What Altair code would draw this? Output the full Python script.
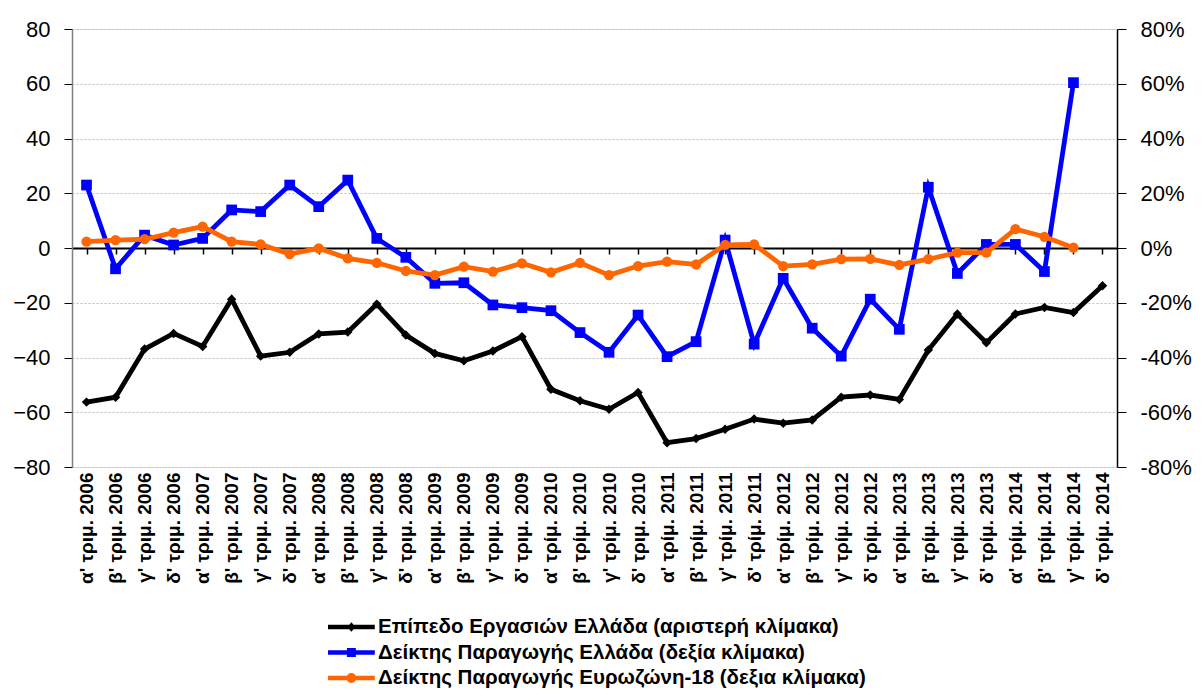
import altair as alt
import pandas as pd

categories = [
    "α' τριμ. 2006", "β' τριμ. 2006", "γ' τριμ. 2006", "δ' τριμ. 2006",
    "α' τριμ. 2007", "β' τριμ. 2007", "γ' τριμ. 2007", "δ' τριμ. 2007",
    "α' τριμ. 2008", "β' τριμ. 2008", "γ' τριμ. 2008", "δ' τριμ. 2008",
    "α' τριμ. 2009", "β' τριμ. 2009", "γ' τριμ. 2009", "δ' τριμ. 2009",
    "α' τρίμ. 2010", "β' τρίμ. 2010", "γ' τρίμ. 2010", "δ' τριμ. 2010",
    "α' τρίμ. 2011", "β' τρίμ. 2011", "γ' τρίμ. 2011", "δ' τρίμ. 2011",
    "α' τρίμ. 2012", "β' τρίμ. 2012", "γ' τρίμ. 2012", "δ' τρίμ. 2012",
    "α' τρίμ. 2013", "β' τρίμ. 2013", "γ' τρίμ. 2013", "δ' τρίμ. 2013",
    "α' τρίμ. 2014", "β' τρίμ. 2014", "γ' τρίμ. 2014", "δ' τρίμ. 2014",
]

employment = [-56.3, -54.5, -36.9, -31.2, -36.0, -18.7, -39.5, -38.1,
              -31.4, -30.7, -20.5, -31.8, -38.5, -41.2, -37.6, -32.4,
              -51.6, -55.8, -58.9, -52.8, -71.1, -69.6, -66.2, -62.5,
              -64.0, -62.8, -54.5, -53.7, -55.3, -37.3, -24.1, -34.6,
              -24.1, -21.7, -23.6, -13.8]

greek_prod = [23.0, -7.6, 4.7, 1.1, 3.5, 13.9, 13.3, 23.0,
              15.1, 24.8, 3.5, -3.4, -12.9, -12.7, -20.8, -21.8,
              -22.9, -30.9, -38.1, -24.5, -39.7, -34.2, 2.9, -35.1,
              -11.1, -29.3, -39.5, -18.7, -29.7, 22.2, -9.3, 1.3,
              1.3, -8.6, 60.4, None]

euro_prod = [2.3, 2.9, 3.2, 5.6, 7.8, 2.3, 1.3, -2.2,
             -0.1, -3.8, -5.4, -8.4, -9.9, -6.8, -8.6, -5.6,
             -8.9, -5.4, -9.9, -6.6, -5.0, -6.0, 1.1, 1.3,
             -6.6, -6.0, -4.1, -4.0, -6.2, -4.1, -1.7, -1.7,
             6.9, 4.1, 0.1, None]

series_names = [
    "Επίπεδο Εργασιών Ελλάδα (αριστερή κλίμακα)",
    "Δείκτης Παραγωγής Ελλάδα (δεξία κλίμακα)",
    "Δείκτης Παραγωγής Ευρωζώνη-18 (δεξια κλίμακα)",
]
series_colors = ["#000000", "#0000FF", "#FF6600"]

left_ticks = [-80, -60, -40, -20, 0, 20, 40, 60, 80]

FONT = "Liberation Sans"
W, H = 1045, 438
LW = 4.8

df = pd.DataFrame({"cat": categories, "emp": employment,
                   "gr": greek_prod, "eu": euro_prod})

xscale = alt.Scale(domain=categories, paddingInner=0, paddingOuter=0)
yscale = alt.Scale(domain=[-80, 80], nice=False, zero=False)

x_labels = alt.X("cat:N", sort=categories, scale=xscale, title=None,
                 axis=alt.Axis(orient="bottom", labelAngle=-90, labelFont=FONT,
                               labelFontSize=19, labelFontWeight="bold",
                               labelColor="#000000", labelPadding=5,
                               ticks=False, domain=False, grid=False,
                               labelOverlap=False))

x_ticks = alt.X("cat:N", sort=categories, scale=xscale, title=None,
                axis=alt.Axis(orient="bottom", offset=-H / 2, labels=False,
                              ticks=True, tickSize=6, tickWidth=1.5,
                              tickColor="#000000", bandPosition=0,
                              domain=True, domainColor="#000000",
                              domainWidth=2, grid=False))

y_left = alt.Y("emp:Q", scale=yscale, title=None,
               axis=alt.Axis(orient="left", values=left_ticks, labelFont=FONT,
                             labelFontSize=22, labelColor="#000000",
                             labelPadding=14, tickSize=8, tickColor="#000000",
                             domainColor="#808080", domainWidth=1.5,
                             grid=True, gridColor="#bfbfbf", gridDash=[2, 2],
                             gridWidth=1))

right_axis = alt.Axis(orient="right", values=left_ticks,
                      labelExpr="datum.value + '%'", labelFont=FONT,
                      labelFontSize=22, labelColor="#000000",
                      labelPadding=14, tickSize=9,
                      tickColor="#000000", domainColor="#000000",
                      domainWidth=1.5, grid=False)

base = alt.Chart(df)

emp_line = base.mark_line(color="#000000", strokeWidth=LW).encode(x=x_labels, y=y_left)
emp_pts = base.mark_point(shape="diamond", filled=True, size=90, opacity=1,
                          color="#000000").encode(x=x_labels, y=y_left)

gr_y = alt.Y("gr:Q", scale=yscale, title=None, axis=right_axis)
gr_line = base.transform_filter("isValid(datum.gr)").mark_line(
    color="#0000FF", strokeWidth=LW).encode(x=x_ticks, y=gr_y)
gr_pts = base.transform_filter("isValid(datum.gr)").mark_point(
    shape="square", filled=True, size=115, opacity=1,
    color="#0000FF").encode(x=x_ticks, y=gr_y)

eu_y = alt.Y("eu:Q", scale=yscale, title=None, axis=right_axis)
eu_line = base.transform_filter("isValid(datum.eu)").mark_line(
    color="#FF6600", strokeWidth=LW).encode(x=x_ticks, y=eu_y)
eu_pts = base.transform_filter("isValid(datum.eu)").mark_point(
    shape="circle", filled=True, size=105, opacity=1,
    color="#FF6600").encode(x=x_ticks, y=eu_y)

# legend glyphs: a line segment with the series marker in its middle
legend_shapes = [
    "M-1,-0.18H2.9V0.18H-1Z M0.95,-0.4L1.29,0L0.95,0.4L0.61,0Z",
    "M-1,-0.18H2.9V0.18H-1Z M0.58,-0.37H1.32V0.37H0.58Z",
    "M-1,-0.18H2.9V0.18H-1Z M0.54,0A0.41,0.41 0 1,1 1.36,0A0.41,0.41 0 1,1 0.54,0Z",
]

legend_df = pd.DataFrame({"series": series_names})
legend_layer = alt.Chart(legend_df).mark_point(filled=True, clip=True,
                                               opacity=1).encode(
    y=alt.value(-200),
    color=alt.Color("series:N", sort=series_names,
                    scale=alt.Scale(domain=series_names, range=series_colors),
                    legend=alt.Legend(title=None, orient="none", legendX=256,
                                      legendY=586, direction="vertical",
                                      symbolSize=576, symbolOpacity=1,
                                      symbolStrokeWidth=0, labelFont=FONT,
                                      labelFontSize=20.5, labelFontWeight="bold",
                                      labelColor="#000000", labelLimit=0,
                                      labelOffset=26, rowPadding=2.5)),
    shape=alt.Shape("series:N", sort=series_names,
                    scale=alt.Scale(domain=series_names, range=legend_shapes)),
)

left_layer = alt.layer(emp_line, emp_pts)
right_layer = alt.layer(gr_line, gr_pts, eu_line, eu_pts)

chart = alt.layer(left_layer, right_layer, legend_layer).resolve_scale(
    y="independent"
).resolve_axis(x="independent").properties(
    width=W, height=H,
    autosize=alt.AutoSizeParams(type="none"),
    padding={"left": 64, "top": 21, "right": 78, "bottom": 223},
).configure_view(stroke=None).configure(background="#ffffff")

chart.save("out.html", embed_options={"renderer": "svg", "actions": False})
